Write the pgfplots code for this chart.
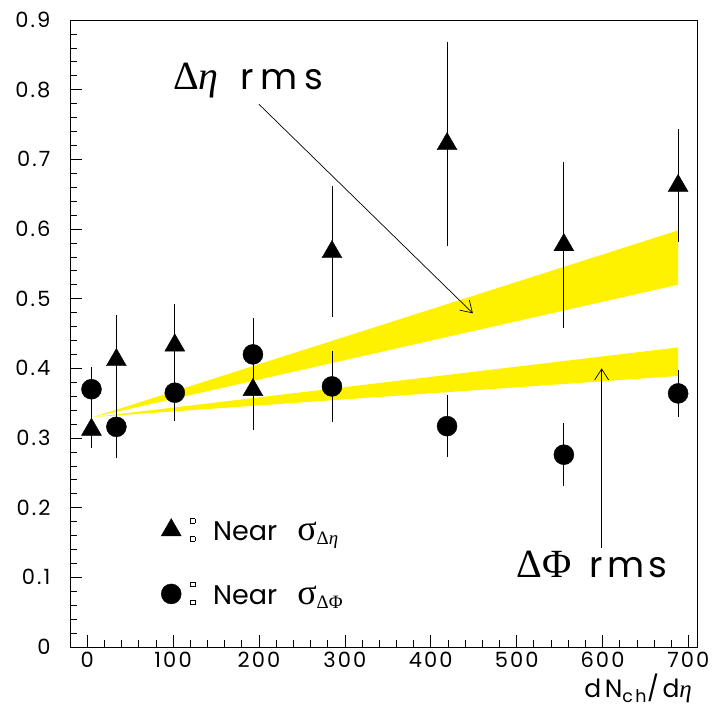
\documentclass[border=0pt]{standalone}
\usepackage{fontspec}
\setmainfont{Poppins}
\newfontfamily\grk{Liberation Serif}
\usepackage{pgfplots}
\pgfplotsset{compat=1.18}
\usetikzlibrary{arrows.meta}

\newcommand{\sqbox}{{\setlength{\fboxsep}{0pt}\setlength{\fboxrule}{0.7pt}\fbox{\rule{0pt}{3.6pt}\rule{3.6pt}{0pt}}}}
\newcommand{\sqcolon}{\vbox{\offinterlineskip\hbox{\sqbox}\kern13pt\hbox{\sqbox}}}
\newcommand{\sig}{{\grk\fontsize{36}{36}\selectfont σ}}

% near-side widths vs multiplicity: x, y, error
\pgfplotstableread{
x    y      e
5    0.312  0.027
34   0.412  0.065
102  0.433  0.059
193  0.369  0.058
285  0.567  0.094
419  0.722  0.146
555  0.577  0.119
688  0.662  0.081
}\deta
\pgfplotstableread{
x    y      e
5    0.370  0.032
34   0.316  0.045
102  0.365  0.040
193  0.420  0.052
285  0.374  0.051
419  0.317  0.044
555  0.276  0.045
688  0.364  0.034
}\dphi

\begin{document}
\begin{tikzpicture}
\begin{axis}[name=ax,
  width=627pt, height=627pt, scale only axis,
  xmin=-20, xmax=710, ymin=0, ymax=0.9,
  xtick={0,100,200,300,400,500,600,700},
  ytick={0,0.1,0.2,0.3,0.4,0.5,0.6,0.7,0.8,0.9},
  minor x tick num=4, minor y tick num=4,
  tick pos=left,
  major tick length=12pt, minor tick length=7pt,
  tick style={black, line width=0.7pt},
  axis line style={line width=0.7pt},
  /pgf/number format/assume math mode=true,
  tick label style={font=\fontsize{21}{24}\selectfont\addfontfeature{LetterSpace=10}},
  yticklabel style={xshift=-16pt},
  xticklabel style={yshift=-4pt, inner sep=1pt},
  legend style={at={(axis cs:86,0.188)}, anchor=north west, draw=none, fill=none,
    font=\fontsize{27}{32}\selectfont, row sep=36pt, inner sep=0pt},
  legend cell align=left,
]
% bands
\addplot[fill=yellow, draw=none, forget plot] coordinates {(7,0.330) (688,0.598) (688,0.520)} -- cycle;
\addplot[fill=yellow, draw=none, forget plot] coordinates {(7,0.330) (688,0.430) (688,0.389)} -- cycle;
% data
\addplot[only marks, mark=triangle*, mark size=11.5pt, black,
  error bars/.cd, y dir=both, y explicit, error mark=none,
  error bar style={line width=0.8pt}]
  table[x=x, y=y, y error=e] {\deta};
\addlegendentry{\hspace{7pt}\sqcolon\hspace{18pt}Near\hspace{20pt}\sig\textsubscript{\grk Δ\itshape η}}
\addplot[only marks, mark=*, mark size=10pt, black,
  error bars/.cd, y dir=both, y explicit, error mark=none,
  error bar style={line width=0.8pt}]
  table[x=x, y=y, y error=e] {\dphi};
\addlegendentry{\hspace{7pt}\sqcolon\hspace{18pt}Near\hspace{20pt}\sig\textsubscript{\grk ΔΦ}}
% annotations
\node[anchor=base west, font=\fontsize{36}{40}\selectfont, inner sep=0pt] at (axis cs:100,0.80) {{\grk\fontsize{40}{40}\selectfont Δ\itshape η}\hspace{22pt}{\addfontfeature{LetterSpace=18}rms}};
\draw[line width=0.7pt, -{Straight Barb[length=11pt, width=14pt]}] (axis cs:200,0.779) -- (axis cs:449,0.479);
\node[anchor=base west, font=\fontsize{36}{40}\selectfont, inner sep=0pt] at (axis cs:500,0.10) {{\grk\fontsize{40}{40}\selectfont ΔΦ}\hspace{18pt}{\addfontfeature{LetterSpace=12}rms}};
\draw[line width=0.7pt, -{Straight Barb[length=11pt, width=14pt]}] (axis cs:599,0.142) -- (axis cs:599,0.400);
\end{axis}
\node[anchor=base east, font=\fontsize{25}{30}\selectfont\addfontfeature{LetterSpace=14}, inner sep=0pt] at ([shift={(-5pt,-51pt)}]ax.south east) {dN\textsubscript{ch}/d{\grk\itshape η}};
\path ([shift={(-70pt,-61pt)}]ax.south west) rectangle ([shift={(16pt,20pt)}]ax.north east);
\end{tikzpicture}
\end{document}
